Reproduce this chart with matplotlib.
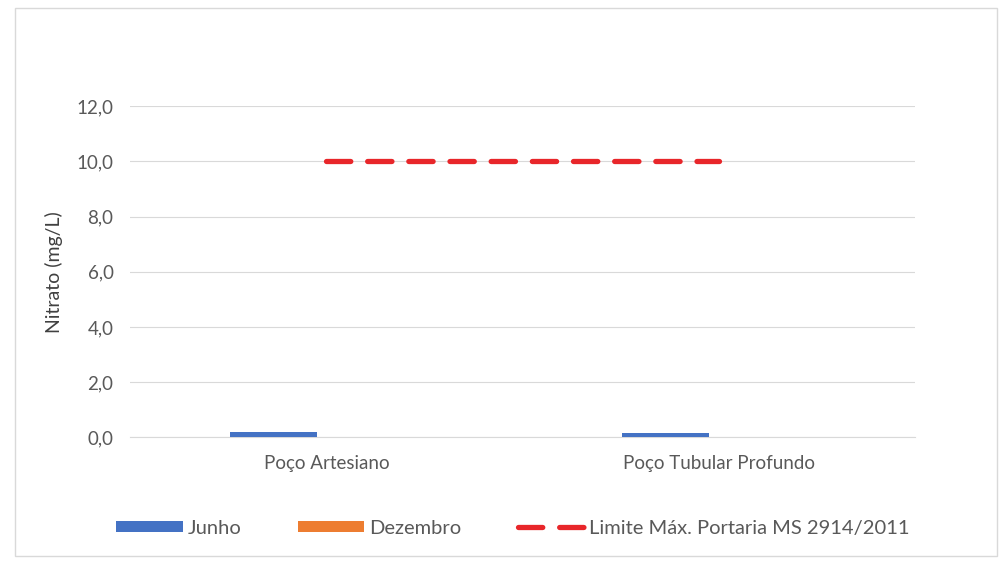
import numpy as np
import matplotlib.pyplot as plt
from matplotlib.patches import Rectangle

plt.rcParams['font.family'] = ['Lato', 'DejaVu Sans']

pocos = ['Poço Artesiano', 'Poço Tubular Profundo']
junho = [0.2, 0.15]
dezembro = [0.0, 0.0]
limite = [10.0, 10.0]
yticks = [0, 2, 4, 6, 8, 10, 12]
ytick_labels = ['0,0', '2,0', '4,0', '6,0', '8,0', '10,0', '12,0']

fig = plt.figure(figsize=(10.02, 5.62), dpi=100)
ax = fig.add_axes([0.13, 0.222, 0.783, 0.589])

x = np.arange(len(pocos))
w = 0.222
b1 = ax.bar(x - 0.025 - w/2, junho, w, color='#4472c4', label='Junho', zorder=3)
b2 = ax.bar(x + 0.025 + w/2, dezembro, w, color='#ed7d31', label='Dezembro', zorder=3)
l1, = ax.plot(x, limite, color='#e8262a', linewidth=3.8, linestyle=(0, (4.6, 3.2)),
              dash_capstyle='round', solid_capstyle='round',
              label='Limite Máx. Portaria MS 2914/2011', zorder=4)

ax.set_xlim(-0.5, 1.5)
ax.set_ylim(0, 12)
ax.set_yticks(yticks)
ax.set_yticklabels(ytick_labels)
ax.set_xticks(x)
ax.set_xticklabels(pocos)
ax.grid(axis='y', color='#d9d9d9', linewidth=0.8, zorder=0)
for s in ['top', 'right', 'left']:
    ax.spines[s].set_visible(False)
ax.spines['bottom'].set_color('#d9d9d9')
ax.tick_params(axis='both', length=0, colors='#595959', labelsize=13.5)
ax.tick_params(axis='y', pad=12)
ax.tick_params(axis='x', pad=13)
ax.set_ylabel('Nitrato (mg/L)', fontsize=14, color='#404040', labelpad=10)

fig.legend([b1, b2, l1], ['Junho', 'Dezembro', 'Limite Máx. Portaria MS 2914/2011'],
           loc='center', bbox_to_anchor=(0.512, 0.06), ncol=3, frameon=False,
           fontsize=14.5, handlelength=3.3, handleheight=0.5, columnspacing=2.8,
           labelcolor='#595959', handletextpad=0.25)

fig.patches.append(Rectangle((0.015, 0.01), 0.98, 0.975, transform=fig.transFigure,
                             fill=False, edgecolor='#d9d9d9', linewidth=1))

fig.savefig('out.png', dpi=100)
